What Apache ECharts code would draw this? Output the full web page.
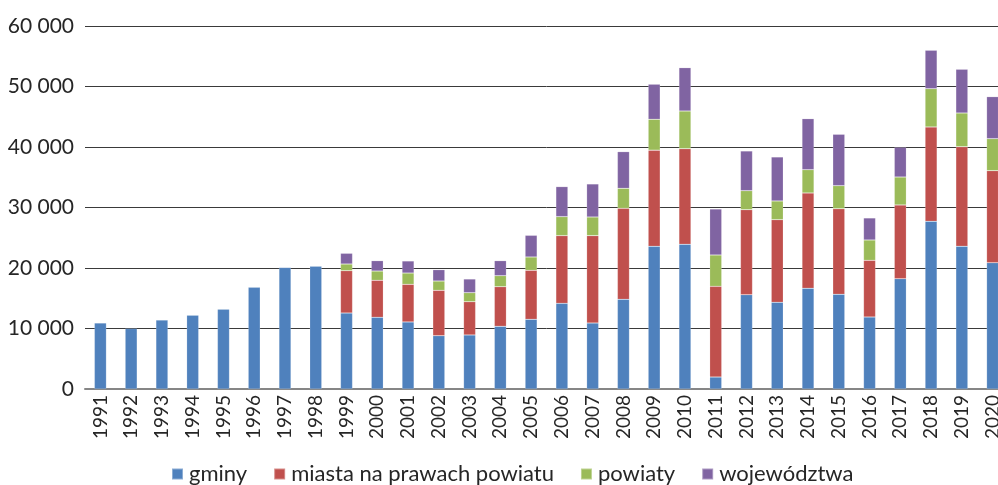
<!DOCTYPE html>
<html>
<head>
<meta charset="utf-8">
<script src="https://cdn.jsdelivr.net/npm/echarts@6/dist/echarts.min.js"></script>
<style>
html,body{margin:0;padding:0;background:#fff;overflow:hidden;width:998px;height:485px;}
#chart{width:1008px;height:485px;}
</style>
</head>
<body>
<div id="chart"></div>
<script>
var years = ['1991','1992','1993','1994','1995','1996','1997','1998','1999','2000','2001','2002','2003','2004','2005','2006','2007','2008','2009','2010','2011','2012','2013','2014','2015','2016','2017','2018','2019','2020'];
var gminy = [10900,10000,11400,12200,13200,16800,20100,20300,12560,11850,11080,8810,8930,10360,11520,14160,10910,14820,23580,23920,1980,15590,14330,16640,15650,11900,18240,27720,23590,20880];
var miasta = [0,0,0,0,0,0,0,0,7000,6120,6220,7500,5500,6550,8100,11190,14440,15040,15900,15800,14990,14050,13660,15760,14150,9370,12180,15590,16460,15210];
var powiaty = [0,0,0,0,0,0,0,0,1100,1530,1870,1540,1490,1820,2200,3140,3080,3310,5100,6230,5180,3140,3090,3850,3810,3360,4620,6330,5570,5290];
var wojewodztwa = [0,0,0,0,0,0,0,0,1770,1710,1990,1870,2260,2480,3580,4960,5460,6060,5800,7160,7600,6560,7270,8430,8490,3640,4910,6350,7230,6940];
var seriesNames = ['gminy','miasta na prawach powiatu','powiaty','województwa'];
var colors = ['#4F81BD','#C0504D','#9BBB59','#8064A2'];
var yTicks = [0,10000,20000,30000,40000,50000,60000];

function fmt(v){ return String(v).replace(/\B(?=(\d{3})+(?!\d))/g,' '); }
function nz(arr){ return arr.map(function(v){ return v === 0 ? '-' : v; }); }

var chart = echarts.init(document.getElementById('chart'));
var dataSets = [gminy, nz(miasta), nz(powiaty), nz(wojewodztwa)];
chart.setOption({
  animation:false,
  color:colors,
  grid:{left:85, right:0, top:26, bottom:96, containLabel:false},
  legend:{
    left:166, top:458,
    itemWidth:11, itemHeight:11, itemGap:26,
    icon:'rect',
    textStyle:{fontFamily:'Lato, sans-serif', fontSize:22, color:'#262626', padding:[0,0,0,1]},
    data:seriesNames
  },
  xAxis:{
    type:'category', data:years,
    axisLine:{lineStyle:{color:'#868686', width:2}},
    axisTick:{show:false},
    axisLabel:{rotate:90, fontFamily:'Lato, sans-serif', fontSize:19, color:'#262626', margin:6, interval:0}
  },
  yAxis:{
    type:'value', min:yTicks[0], max:yTicks[yTicks.length-1], interval:10000,
    axisLine:{show:false}, axisTick:{show:false},
    splitLine:{lineStyle:{color:'#3a3a3a', width:1}},
    axisLabel:{fontFamily:'Lato, sans-serif', fontSize:21, color:'#262626', margin:11, formatter:function(v){return fmt(v);}}
  },
  series: seriesNames.map(function(n,i){
    return {
      name:n, type:'bar', stack:'total', barWidth:12,
      data:dataSets[i],
      itemStyle:{color:colors[i], borderColor:'rgba(255,255,255,0.35)', borderWidth:0.5}
    };
  })
});
</script>
</body>
</html>
